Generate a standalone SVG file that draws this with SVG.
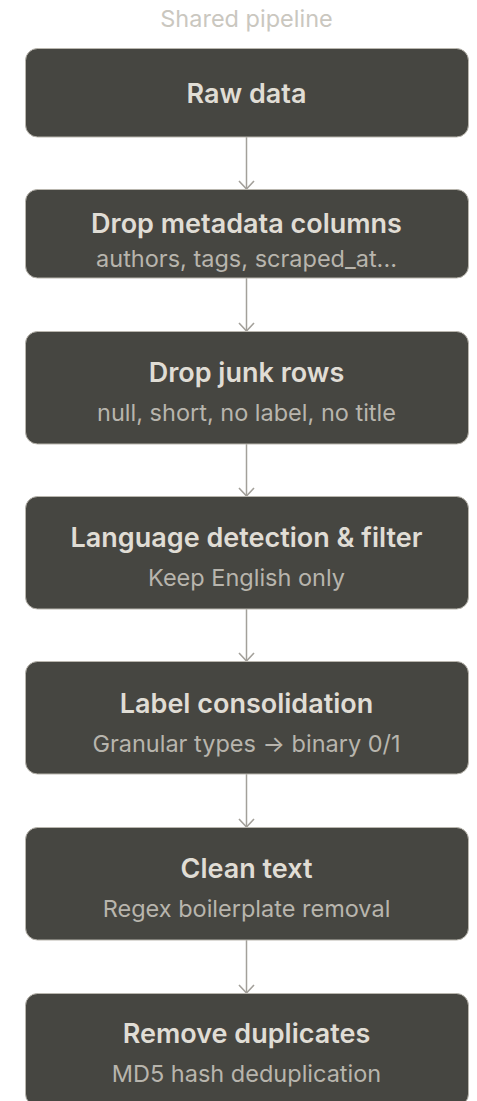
<svg xmlns="http://www.w3.org/2000/svg" width="477" height="1101" viewBox="0 0 477 1101">
  <style>
    .box { fill: #464641; stroke: #b9b6ae; stroke-width: 1; }
    .title { font-family: Inter, "Noto Sans", sans-serif; font-weight: 600; font-size: 27px; fill: #e0ddd5; text-anchor: middle; }
    .sub { font-family: Inter, "Noto Sans", sans-serif; font-weight: 400; font-size: 23.5px; fill: #b8b5ad; text-anchor: middle; }
    .head { font-family: Inter, "Noto Sans", sans-serif; font-weight: 400; font-size: 23.5px; fill: #cac7bf; text-anchor: middle; }
    .edge { stroke: #a3a09a; stroke-width: 1.5; fill: none; }
  </style>
  <defs>
    <!-- open chevron head; drawn along +x so orient="auto" points it down the line -->
    <marker id="chev" viewBox="0 0 11 18" refX="10" refY="9" markerWidth="11" markerHeight="18" markerUnits="userSpaceOnUse" orient="auto">
      <path d="M2 1.5 L10 9 L2 16.5" fill="none" stroke="#a3a09a" stroke-width="1.6"/>
    </marker>
  </defs>
  <rect width="477" height="1101" fill="#ffffff"/>
  <text class="head" x="246.5" y="27">Shared pipeline</text>

  <g id="connectors">
    <line class="edge" x1="246.5" y1="137" x2="246.5" y2="189" marker-end="url(#chev)"/>
    <line class="edge" x1="246.5" y1="278" x2="246.5" y2="331" marker-end="url(#chev)"/>
    <line class="edge" x1="246.5" y1="444" x2="246.5" y2="496" marker-end="url(#chev)"/>
    <line class="edge" x1="246.5" y1="609" x2="246.5" y2="661" marker-end="url(#chev)"/>
    <line class="edge" x1="246.5" y1="774" x2="246.5" y2="827" marker-end="url(#chev)"/>
    <line class="edge" x1="246.5" y1="940" x2="246.5" y2="993" marker-end="url(#chev)"/>
  </g>

  <g id="raw-data">
    <rect class="box" x="25.5" y="48.5" width="443" height="88.5" rx="12"/>
    <text class="title" x="246.5" y="103">Raw data</text>
  </g>
  <g id="drop-metadata">
    <rect class="box" x="25.5" y="189.5" width="443" height="88.5" rx="12"/>
    <text class="title" x="246.5" y="233">Drop metadata columns</text>
    <text class="sub" x="246.5" y="267">authors, tags, scraped_at...</text>
  </g>
  <g id="drop-junk">
    <rect class="box" x="25.5" y="331.5" width="443" height="112.5" rx="12"/>
    <text class="title" x="246.5" y="382">Drop junk rows</text>
    <text class="sub" x="246.5" y="421">null, short, no label, no title</text>
  </g>
  <g id="language-filter">
    <rect class="box" x="25.5" y="496.5" width="443" height="112.5" rx="12"/>
    <text class="title" x="246.5" y="547">Language detection &amp; filter</text>
    <text class="sub" x="246.5" y="586">Keep English only</text>
  </g>
  <g id="label-consolidation">
    <rect class="box" x="25.5" y="661.5" width="443" height="112.5" rx="12"/>
    <text class="title" x="246.5" y="713">Label consolidation</text>
    <text class="sub" x="246.5" y="752">Granular types → binary 0/1</text>
  </g>
  <g id="clean-text">
    <rect class="box" x="25.5" y="827.5" width="443" height="112.5" rx="12"/>
    <text class="title" x="246.5" y="878">Clean text</text>
    <text class="sub" x="246.5" y="917">Regex boilerplate removal</text>
  </g>
  <g id="remove-duplicates">
    <rect class="box" x="25.5" y="993.5" width="443" height="112.5" rx="12"/>
    <text class="title" x="246.5" y="1043">Remove duplicates</text>
    <text class="sub" x="246.5" y="1082">MD5 hash deduplication</text>
  </g>
</svg>
